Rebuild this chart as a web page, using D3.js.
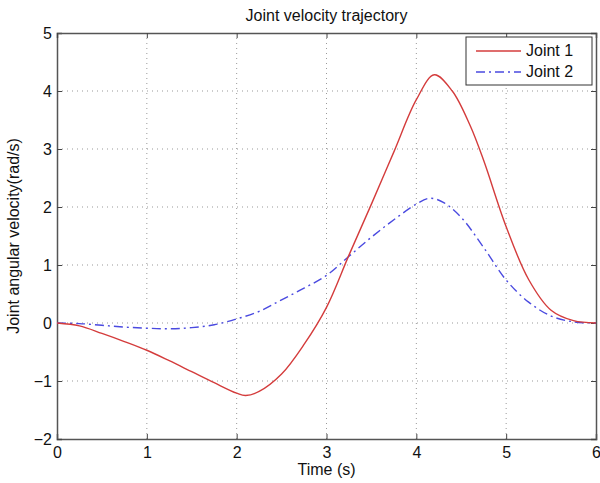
<!DOCTYPE html>
<html>
    <head>
        <title>Joint velocity trajectory</title>
        <style>
            body { margin: 0; background: #fff; }
            text { font-family: "Liberation Sans", Arial, sans-serif; fill: #111; }
        </style>
    </head>
    <body>
        <script src="https://cdnjs.cloudflare.com/ajax/libs/d3/7.8.5/d3.min.js" charset="utf-8"></script>
        <script>

        // data
        var time1 = [0, 0.25, 0.5, 0.75, 1, 1.25, 1.5, 1.75, 2, 2.1, 2.25, 2.5, 2.75, 3, 3.25, 3.5, 3.75, 4, 4.2, 4.4, 4.6, 4.75, 5, 5.25, 5.5, 5.75, 6];
        var joint1 = [0, -0.05, -0.18, -0.32, -0.47, -0.65, -0.84, -1.03, -1.21, -1.25, -1.18, -0.88, -0.37, 0.27, 1.17, 2.05, 2.95, 3.85, 4.28, 4.0, 3.4, 2.8, 1.66, 0.75, 0.22, 0.04, 0];

        var time2 = [0, 0.25, 0.5, 0.75, 1, 1.25, 1.5, 1.75, 2, 2.25, 2.5, 2.75, 3, 3.25, 3.5, 3.75, 4, 4.15, 4.3, 4.5, 4.75, 5, 5.25, 5.5, 5.75, 6];
        var joint2 = [0, -0.01, -0.04, -0.07, -0.09, -0.1, -0.08, -0.03, 0.07, 0.2, 0.4, 0.6, 0.82, 1.15, 1.48, 1.78, 2.05, 2.15, 2.08, 1.82, 1.3, 0.74, 0.36, 0.12, 0.02, 0];

        var xTicks = [0, 1, 2, 3, 4, 5, 6];
        var yTicks = [-2, -1, 0, 1, 2, 3, 4, 5];
        var seriesNames = ["Joint 1", "Joint 2"];

        var w = 600;
        var h = 483;
        var margin = {top: 33, right: 4, bottom: 44, left: 57};
        var iw = w - margin.left - margin.right;
        var ih = h - margin.top - margin.bottom;

        var xScale = d3.scaleLinear().domain([0, 6]).range([0, iw]);
        var yScale = d3.scaleLinear().domain([-2, 5]).range([ih, 0]);

        var svg = d3.select("body")
                    .append("svg")
                    .attr("width", w)
                    .attr("height", h);

        var g = svg.append("g")
                   .attr("transform", "translate(" + margin.left + "," + margin.top + ")");

        // grid
        g.selectAll("line.vgrid")
            .data(xTicks.slice(1, -1))
            .enter()
            .append("line")
            .attr("class", "vgrid")
            .attr("x1", function(d) { return xScale(d); })
            .attr("x2", function(d) { return xScale(d); })
            .attr("y1", 0)
            .attr("y2", ih)
            .attr("stroke", "#999")
            .attr("stroke-width", 1)
            .attr("stroke-dasharray", "1,4");

        g.selectAll("line.hgrid")
            .data(yTicks.slice(1, -1))
            .enter()
            .append("line")
            .attr("class", "hgrid")
            .attr("x1", 0)
            .attr("x2", iw)
            .attr("y1", function(d) { return yScale(d); })
            .attr("y2", function(d) { return yScale(d); })
            .attr("stroke", "#999")
            .attr("stroke-width", 1)
            .attr("stroke-dasharray", "1,4");

        // axes, ticks pointing inward like matlab
        var fmt = function(d) { return d < 0 ? "\u2212" + Math.abs(d) : d; };

        var xAxis = g.append("g")
            .attr("transform", "translate(0," + ih + ")")
            .call(d3.axisBottom(xScale).tickValues(xTicks).tickSize(-5).tickPadding(8).tickFormat(fmt));
        var yAxis = g.append("g")
            .call(d3.axisLeft(yScale).tickValues(yTicks).tickSize(-5).tickPadding(5).tickFormat(fmt));
        var xTop = g.append("g")
            .call(d3.axisTop(xScale).tickValues(xTicks).tickSize(-5).tickFormat(""));
        var yRight = g.append("g")
            .attr("transform", "translate(" + iw + ",0)")
            .call(d3.axisRight(yScale).tickValues(yTicks).tickSize(-5).tickFormat(""));

        [xAxis, yAxis, xTop, yRight].forEach(function(a) {
            a.select(".domain").attr("stroke", "#555").attr("stroke-width", 1.5);
            a.selectAll(".tick line").attr("stroke", "#444");
            a.selectAll(".tick text")
                .attr("font-size", "16px")
                .attr("font-family", "Liberation Sans, Arial, sans-serif")
                .attr("fill", "#111");
        });

        // lines
        var line1 = d3.line()
            .x(function(d, i) { return xScale(time1[i]); })
            .y(function(d) { return yScale(d); })
            .curve(d3.curveCatmullRom.alpha(0.5));
        var line2 = d3.line()
            .x(function(d, i) { return xScale(time2[i]); })
            .y(function(d) { return yScale(d); })
            .curve(d3.curveCatmullRom.alpha(0.5));

        g.append("path")
            .datum(joint2)
            .attr("d", line2)
            .attr("fill", "none")
            .attr("stroke", "#4a4ae0")
            .attr("stroke-width", 1.4)
            .attr("stroke-dasharray", "9,4,2,4");

        g.append("path")
            .datum(joint1)
            .attr("d", line1)
            .attr("fill", "none")
            .attr("stroke", "#d43c3c")
            .attr("stroke-width", 1.4);

        // legend
        var leg = g.append("g")
            .attr("transform", "translate(" + (466 - margin.left) + "," + (37 - margin.top) + ")");
        leg.append("rect")
            .attr("width", 126)
            .attr("height", 48)
            .attr("fill", "#fff")
            .attr("stroke", "#333")
            .attr("stroke-width", 1);

        var styles = [
            {color: "#d43c3c", dash: null},
            {color: "#4a4ae0", dash: "9,4,2,4"}
        ];
        seriesNames.forEach(function(name, i) {
            var yy = 14 + i * 21;
            leg.append("line")
                .attr("x1", 10)
                .attr("x2", 55)
                .attr("y1", yy)
                .attr("y2", yy)
                .attr("stroke", styles[i].color)
                .attr("stroke-width", 1.4)
                .attr("stroke-dasharray", styles[i].dash);
            leg.append("text")
                .attr("x", 60)
                .attr("y", yy + 5)
                .attr("font-size", "16px")
                .text(name);
        });

        // titles
        svg.append("text")
            .attr("x", margin.left + iw / 2)
            .attr("y", 21)
            .attr("text-anchor", "middle")
            .attr("font-size", "16px")
            .text("Joint velocity trajectory");

        svg.append("text")
            .attr("x", margin.left + iw / 2)
            .attr("y", 475)
            .attr("text-anchor", "middle")
            .attr("font-size", "16px")
            .text("Time (s)");

        svg.append("text")
            .attr("transform", "translate(19," + (margin.top + ih / 2) + ") rotate(-90)")
            .attr("text-anchor", "middle")
            .attr("font-size", "16px")
            .text("Joint angular velocity(rad/s)");

        </script>
    </body>
</html>
